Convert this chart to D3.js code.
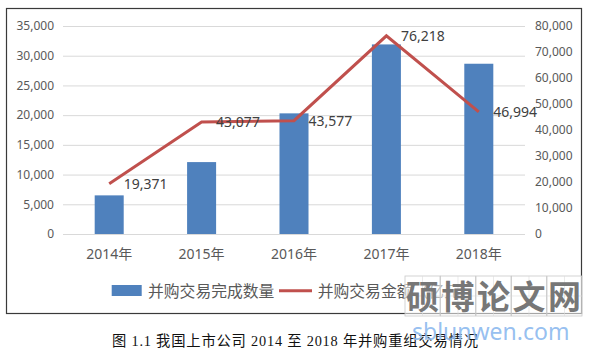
<!DOCTYPE html>
<html>
<head>
<meta charset="utf-8">
<script src="https://cdn.jsdelivr.net/npm/d3@7"></script>
<style>
  body { margin: 0; background: #fff; }
  text { font-family: "Noto Sans", "Noto Sans CJK SC", sans-serif; }
</style>
</head>
<body>
<div id="chart"></div>
<script>
var years = ["2014年", "2015年", "2016年", "2017年", "2018年"];
var counts = [6500, 12100, 20300, 31900, 28650];      // 并购交易完成数量
var amounts = [19371, 43077, 43577, 76218, 46994];    // 并购交易金额
var leftTicks = [0, 5000, 10000, 15000, 20000, 25000, 30000, 35000];
var rightTicks = [0, 10000, 20000, 30000, 40000, 50000, 60000, 70000, 80000];
var legendNames = ["并购交易完成数量", "并购交易金额（亿元）"];
var caption = "图 1.1 我国上市公司 2014 至 2018 年并购重组交易情况";
var watermark = ["硕", "博", "论", "文", "网"];

var W = 594, H = 352;
var plot = {left: 63, right: 525, top: 26, bottom: 234};
var fmt = d3.format(",");

var svg = d3.select("#chart").append("svg")
    .attr("width", W)
    .attr("height", H);

svg.append("rect").attr("width", W).attr("height", H).attr("fill", "#fff");

// chart frame
svg.append("rect")
    .attr("x", 6.5).attr("y", 8.5)
    .attr("width", 575).attr("height", 305)
    .attr("fill", "none")
    .attr("stroke", "#3a3a3a")
    .attr("stroke-width", 1.2);

var x = d3.scaleBand()
    .domain(years)
    .range([plot.left, plot.right])
    .paddingInner(0.686)
    .paddingOuter(0.343);

var yL = d3.scaleLinear().domain([0, 35000]).range([plot.bottom, plot.top]);
var yR = d3.scaleLinear().domain([0, 80000]).range([plot.bottom, plot.top]);

// gridlines
svg.append("g")
    .selectAll("line")
    .data(leftTicks)
    .enter().append("line")
    .attr("x1", plot.left).attr("x2", plot.right)
    .attr("y1", function(d) { return yL(d) + 0.5; })
    .attr("y2", function(d) { return yL(d) + 0.5; })
    .attr("stroke", "#d9d9d9")
    .attr("stroke-width", 1);

// left axis
var leftAxis = d3.axisLeft(yL).tickValues(leftTicks).tickSize(0).tickPadding(0).tickFormat(fmt);
var gl = svg.append("g")
    .attr("transform", "translate(54,0)")
    .call(leftAxis);
gl.select(".domain").remove();
gl.selectAll("text")
    .attr("fill", "#595959")
    .style("font-size", "12px")
    .style("font-family", "'Noto Sans', sans-serif");

// right axis
var rightAxis = d3.axisRight(yR).tickValues(rightTicks).tickSize(0).tickPadding(0).tickFormat(fmt);
var gr = svg.append("g")
    .attr("transform", "translate(535,0)")
    .call(rightAxis);
gr.select(".domain").remove();
gr.selectAll("text")
    .attr("fill", "#595959")
    .style("font-size", "12px")
    .style("font-family", "'Noto Sans', sans-serif");

// x axis labels
var xAxis = d3.axisBottom(x).tickSize(0).tickPadding(0);
var gx = svg.append("g")
    .attr("transform", "translate(0," + 254 + ")")
    .call(xAxis);
gx.select(".domain").remove();
gx.selectAll("text")
    .attr("dy", "0.35em")
    .attr("fill", "#595959")
    .style("font-size", "14px")
    .style("font-family", "'Noto Sans', 'Noto Sans CJK SC', sans-serif");

// bars
svg.append("g")
    .selectAll("rect")
    .data(counts)
    .enter().append("rect")
    .attr("x", function(d, i) { return x(years[i]); })
    .attr("y", function(d) { return yL(d); })
    .attr("width", x.bandwidth())
    .attr("height", function(d) { return yL(0) - yL(d); })
    .attr("fill", "#4f81bd");

// amount line
var cx = function(i) { return x(years[i]) + x.bandwidth() / 2; };
var line = d3.line()
    .x(function(d, i) { return cx(i); })
    .y(function(d) { return yR(d); });

svg.append("path")
    .datum(amounts)
    .attr("d", line)
    .attr("fill", "none")
    .attr("stroke", "#c0504d")
    .attr("stroke-width", 3);

svg.append("g")
    .selectAll("text")
    .data(amounts)
    .enter().append("text")
    .attr("x", function(d, i) { return cx(i) + 14.5; })
    .attr("y", function(d) { return yR(d); })
    .attr("dy", "0.35em")
    .attr("fill", "#404040")
    .style("font-size", "14px")
    .text(function(d) { return fmt(d); });

// legend
var lg = svg.append("g");
lg.append("rect")
    .attr("x", 111.7).attr("y", 285)
    .attr("width", 30).attr("height", 11)
    .attr("fill", "#4f81bd");
lg.append("text")
    .attr("x", 148).attr("y", 291)
    .attr("dy", "0.35em")
    .attr("fill", "#595959")
    .style("font-size", "15.8px")
    .style("font-family", "'Noto Sans CJK SC', sans-serif")
    .text(legendNames[0]);
lg.append("line")
    .attr("x1", 279).attr("x2", 312)
    .attr("y1", 290.7).attr("y2", 290.7)
    .attr("stroke", "#c0504d")
    .attr("stroke-width", 3);
lg.append("text")
    .attr("x", 317.7).attr("y", 291)
    .attr("dy", "0.35em")
    .attr("fill", "#595959")
    .style("font-size", "15.8px")
    .style("font-family", "'Noto Sans CJK SC', sans-serif")
    .text(legendNames[1]);

// caption
svg.append("text")
    .attr("x", 112).attr("y", 341)
    .attr("dy", "0.35em")
    .attr("fill", "#111")
    .style("font-size", "14.3px")
    .style("letter-spacing", "0.8px")
    .style("font-family", "'Liberation Serif', 'Noto Sans CJK SC', serif")
    .text(caption);

// watermark
var wm = svg.append("g");
watermark.forEach(function(ch, i) {
    var bx = 405 + i * 35.5, by = 276;
    wm.append("rect")
        .attr("x", bx).attr("y", by)
        .attr("width", 35).attr("height", 40)
        .attr("fill", "rgba(255,255,255,0.55)")
        .attr("stroke", "#c8c8c8")
        .attr("stroke-width", 0.8);
    wm.append("line")
        .attr("x1", bx + 17.5).attr("x2", bx + 17.5)
        .attr("y1", by).attr("y2", by + 40)
        .attr("stroke", "#dcdcdc").attr("stroke-width", 0.6);
    wm.append("line")
        .attr("x1", bx).attr("x2", bx + 35)
        .attr("y1", by + 20).attr("y2", by + 20)
        .attr("stroke", "#dcdcdc").attr("stroke-width", 0.6);
    wm.append("text")
        .attr("x", bx + 17.5).attr("y", by + 21)
        .attr("dy", "0.35em")
        .attr("text-anchor", "middle")
        .attr("fill", "#777")
        .style("font-size", "33px")
        .style("font-weight", "700")
        .style("font-family", "'Noto Sans CJK SC', sans-serif")
        .text(ch);
});
wm.append("text")
    .attr("x", 412).attr("y", 340)
    .attr("fill", "#8ab8ee")
    .attr("fill-opacity", 0.9)
    .style("font-size", "23px")
    .style("font-family", "'Noto Sans', sans-serif")
    .text("sblunwen.com");
</script>
</body>
</html>
